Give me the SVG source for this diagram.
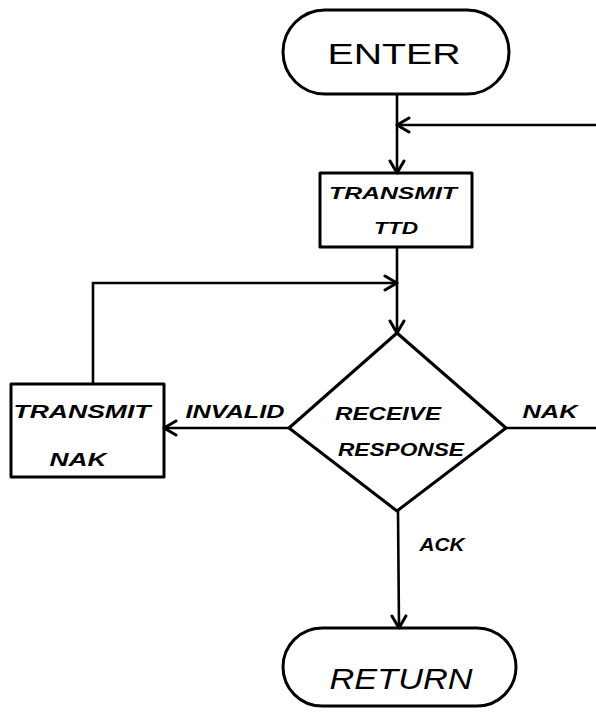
<svg xmlns="http://www.w3.org/2000/svg" width="596" height="712" viewBox="0 0 596 712">
<defs>
<marker id="arr" viewBox="0 0 20 20" refX="18" refY="10" markerWidth="20" markerHeight="20" markerUnits="userSpaceOnUse" orient="auto">
<path d="M6,3 L18,10 L6,17" fill="none" stroke="#000" stroke-width="3" stroke-linecap="round" stroke-linejoin="round"/>
</marker>
</defs>
<style>
.s{fill:none;stroke:#000;stroke-width:3;stroke-linejoin:round}
.c{fill:none;stroke:#000;stroke-width:2.6}
.t{font-family:"Liberation Sans",Arial,sans-serif;fill:#000;text-anchor:middle}
.big{font-size:29px}
.lab{font-size:19px;font-style:italic;font-weight:bold}
.sm{font-size:17px;font-style:italic;font-weight:bold}
</style>
<rect width="596" height="712" fill="#fff"/>
<g id="connectors">
<line class="c" x1="397" y1="94" x2="397" y2="173" marker-end="url(#arr)"/>
<line class="c" x1="596" y1="125" x2="397" y2="125" marker-end="url(#arr)"/>
<line class="c" x1="397" y1="247" x2="397" y2="333" marker-end="url(#arr)"/>
<polyline class="c" points="93,384 93,283 397,283" marker-end="url(#arr)"/>
<line class="c" x1="289" y1="428" x2="164" y2="428" marker-end="url(#arr)"/>
<line class="c" x1="506" y1="428" x2="596" y2="428"/>
<line class="c" x1="398" y1="511" x2="399" y2="628" marker-end="url(#arr)"/>
<text class="t lab" x="235" y="418" textLength="99" lengthAdjust="spacingAndGlyphs">INVALID</text>
<text class="t lab" x="550" y="418" textLength="55" lengthAdjust="spacingAndGlyphs">NAK</text>
<text class="t lab" x="442" y="551" textLength="45" lengthAdjust="spacingAndGlyphs">ACK</text>
</g>
<g id="enter">
<rect class="s" x="283" y="10" width="226" height="84" rx="42" ry="42"/>
<text class="t big" x="394" y="64" textLength="133" lengthAdjust="spacingAndGlyphs">ENTER</text>
</g>
<g id="transmit-ttd">
<rect class="s" x="320" y="173" width="152" height="74"/>
<text class="t sm" x="393" y="199" textLength="128" lengthAdjust="spacingAndGlyphs">TRANSMIT</text>
<text class="t sm" x="396" y="234" textLength="44" lengthAdjust="spacingAndGlyphs">TTD</text>
</g>
<g id="receive-response">
<polygon class="s" points="397,333 506,428 397,511 289,428"/>
<text class="t lab" x="388" y="420" textLength="106" lengthAdjust="spacingAndGlyphs">RECEIVE</text>
<text class="t lab" x="401" y="456" textLength="126" lengthAdjust="spacingAndGlyphs">RESPONSE</text>
</g>
<g id="transmit-nak">
<rect class="s" x="11" y="384" width="153" height="93"/>
<text class="t lab" x="82" y="418" textLength="137" lengthAdjust="spacingAndGlyphs">TRANSMIT</text>
<text class="t lab" x="78" y="466" textLength="57" lengthAdjust="spacingAndGlyphs">NAK</text>
</g>
<g id="return">
<rect class="s" x="283" y="628" width="233" height="78" rx="39" ry="39"/>
<text class="t big" x="401" y="689" textLength="143" lengthAdjust="spacingAndGlyphs" font-style="italic">RETURN</text>
</g>
</svg>
